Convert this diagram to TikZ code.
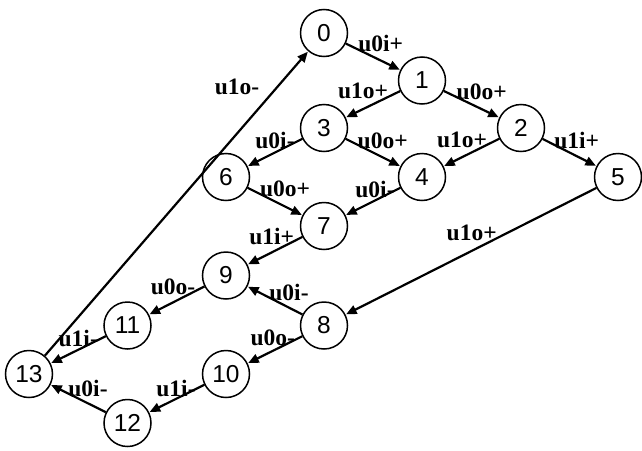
\documentclass[tikz,border=0pt]{standalone}
\usepackage{fontspec}
\setmainfont{Liberation Serif}
\newfontfamily\numfont{Liberation Sans}
\usetikzlibrary{arrows.meta}

\tikzset{
  state/.style={circle, draw, line width=1.5pt, minimum size=47pt, inner sep=0pt,
                font=\numfont\fontsize{24.5}{26}\selectfont},
  trans/.style={line width=2.2pt, -{Triangle[length=10.5pt,width=9pt]}, shorten >=0.5pt},
  lbl/.style={font=\bfseries\fontsize{23.5}{25}\selectfont, inner sep=0pt, pos=0.5}
}

\begin{document}
\begin{tikzpicture}[x=1pt, y=-1pt]
  \useasboundingbox (0,0) rectangle (642,450);

  % states
  \node[state] (s0)  at (324,33)    {0};
  \node[state] (s1)  at (422,80.5)  {1};
  \node[state] (s2)  at (521,128)   {2};
  \node[state] (s3)  at (324,128)   {3};
  \node[state] (s4)  at (422,177)   {4};
  \node[state] (s5)  at (618,177)   {5};
  \node[state] (s6)  at (226,177)   {6};
  \node[state] (s7)  at (324,226)   {7};
  \node[state] (s9)  at (226,275.5) {9};
  \node[state] (s8)  at (324,325.5) {8};
  \node[state] (s11) at (127.5,325.5) {11};
  \node[state] (s10) at (226,374)   {10};
  \node[state] (s13) at (29,374)    {13};
  \node[state] (s12) at (127.5,423) {12};

  % transitions
  \draw[trans] (s0) -- node[lbl, xshift=7.7, yshift=13.5] {u0i+} (s1);
  \draw[trans] (s1) -- node[lbl, xshift=-10, yshift=13.5] {u1o+} (s3);
  \draw[trans] (s1) -- node[lbl, xshift=10.2, yshift=12] {u0o+} (s2);
  \draw[trans] (s3) -- node[lbl, xshift=0, yshift=11.8] {u0i-} (s6);
  \draw[trans] (s3) -- node[lbl, xshift=9.7, yshift=11.8] {u0o+} (s4);
  \draw[trans] (s2) -- node[lbl, xshift=-9.5, yshift=12.5] {u1o+} (s4);
  \draw[trans] (s2) -- node[lbl, xshift=7.2, yshift=12.5] {u1i+} (s5);
  \draw[trans] (s6) -- node[lbl, xshift=10, yshift=12.5] {u0o+} (s7);
  \draw[trans] (s4) -- node[lbl, xshift=2, yshift=12.5] {u0i-} (s7);
  \draw[trans] (s7) -- node[lbl, xshift=-3.3, yshift=14] {u1i+} (s9);
  \draw[trans] (s5) -- node[lbl, xshift=0.7, yshift=18] {u1o+} (s8);
  \draw[trans] (s8) -- node[lbl, xshift=14, yshift=7.8] {u0i-} (s9);
  \draw[trans] (s9) -- node[lbl, xshift=-3.75, yshift=13.5] {u0o-} (s11);
  \draw[trans] (s8) -- node[lbl, xshift=-2.3, yshift=12] {u0o-} (s10);
  \draw[trans] (s11) -- node[lbl, xshift=0, yshift=11.75] {u1i-} (s13);
  \draw[trans] (s10) -- node[lbl, xshift=-0.75, yshift=10.5] {u1i-} (s12);
  \draw[trans] (s12) -- node[lbl, xshift=9.75, yshift=10.5] {u0i-} (s13);
  \draw[trans] (s13) -- node[lbl, pos=0.882, xshift=-40] {u1o-} (s0);
\end{tikzpicture}
\end{document}
